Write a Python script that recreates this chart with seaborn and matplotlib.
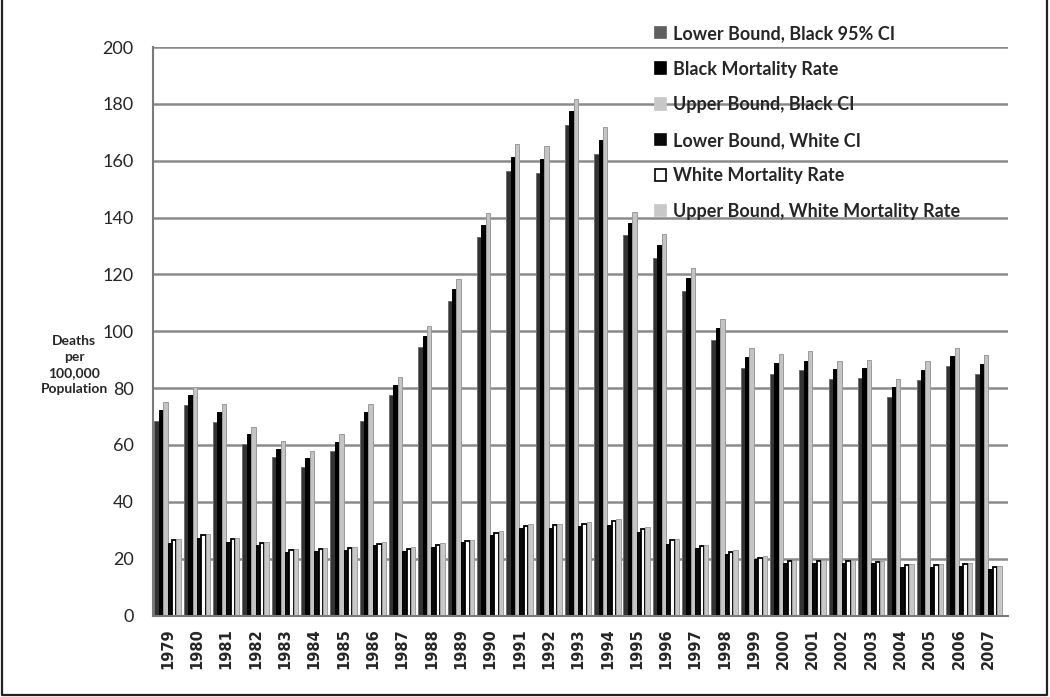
import pandas as pd
import seaborn as sns
import matplotlib.pyplot as plt
from matplotlib.lines import Line2D

years = list(range(1979, 2008))
lower_black = [68.6, 73.9, 68.0, 60.4, 55.6, 52.3, 57.7, 68.3, 77.4, 94.4,
               110.5, 133.1, 156.3, 155.7, 172.6, 162.4, 133.7, 125.7, 114.3, 96.8,
               87.0, 85.0, 86.2, 83.1, 83.6, 76.8, 82.9, 87.7, 85.0]
black_rate = [72.2, 77.4, 71.6, 63.7, 58.6, 55.4, 61.0, 71.6, 81.0, 98.5,
              115.0, 137.5, 161.2, 160.6, 177.6, 167.3, 138.1, 130.2, 118.7, 101.0,
              90.9, 88.9, 89.7, 86.6, 87.0, 80.4, 86.4, 91.2, 88.5]
upper_black = [75.1, 80.4, 74.5, 66.3, 61.3, 57.9, 63.7, 74.5, 83.9, 102.0,
               118.4, 141.6, 165.9, 165.0, 181.7, 171.8, 142.1, 134.2, 122.2, 104.4,
               94.1, 91.9, 92.9, 89.6, 90.0, 83.1, 89.4, 94.2, 91.5]
lower_white = [25.5, 27.3, 25.9, 24.7, 22.4, 22.6, 22.9, 24.7, 22.6, 24.1,
               25.9, 28.4, 30.8, 30.8, 31.4, 31.9, 29.4, 25.3, 23.6, 21.8,
               19.8, 18.6, 18.6, 18.5, 18.3, 17.2, 17.2, 17.4, 16.3]
white_rate = [26.4, 28.2, 26.8, 25.4, 23.1, 23.4, 23.8, 25.3, 23.5, 24.9,
              26.2, 29.1, 31.5, 31.7, 32.3, 33.3, 30.5, 26.5, 24.3, 22.4,
              20.4, 19.3, 19.2, 19.1, 18.9, 17.9, 17.8, 18.1, 17.2]
upper_white = [27.0, 28.6, 27.3, 25.9, 23.5, 23.9, 24.2, 25.9, 24.1, 25.5,
               26.7, 29.7, 32.2, 32.3, 32.9, 34.1, 31.1, 27.0, 24.9, 22.9,
               20.8, 19.6, 19.6, 19.4, 19.2, 18.2, 18.1, 18.4, 17.5]

series_names = ["Lower Bound, Black 95% CI", "Black Mortality Rate", "Upper Bound, Black CI",
                "Lower Bound, White CI", "White Mortality Rate", "Upper Bound, White Mortality Rate"]
fill_colors = ["#333333", "#000000", "#c4c4c4", "#0a0a0a", "#ffffff", "#c8c8c8"]
edge_colors = ["#6e6e6e", "#000000", "#9a9a9a", "#000000", "#000000", "#a0a0a0"]
legend_colors = ["#5f5f5f", "#000000", "#c8c8c8", "#0a0a0a", "#ffffff", "#c8c8c8"]

df = pd.DataFrame({"year": [str(y) for y in years]})
for name, vals in zip(series_names, [lower_black, black_rate, upper_black,
                                     lower_white, white_rate, upper_white]):
    df[name] = vals
long = df.melt(id_vars="year", var_name="series", value_name="value")

sns.set_style("white")
plt.rcParams["font.family"] = ["Lato", "DejaVu Sans"]

fig = plt.figure(figsize=(10.5, 6.97), dpi=100)
ax = fig.add_axes([153 / 1050, 1 - 615.5 / 697, (1008 - 153) / 1050, (615.5 - 47) / 697])

sns.barplot(data=long, x="year", y="value", hue="series", hue_order=series_names,
            palette=fill_colors, saturation=1, width=0.9, ax=ax, legend=False)

for cont, ec, name in zip(ax.containers, edge_colors, series_names):
    for bar in cont:
        bar.set_edgecolor(ec)
        bar.set_linewidth(1.3 if name == "White Mortality Rate" else 0.7)

ax.set_ylim(0, 200)
ax.set_xlim(-0.5, 28.67)
ax.set_yticks(range(0, 201, 20))
ax.grid(axis="y", color="#8a8a8a", linewidth=1.8)
ax.set_axisbelow(True)
for side in ["top", "right"]:
    ax.spines[side].set_visible(False)
for side in ["left", "bottom"]:
    ax.spines[side].set_color("#7a7a7a")
    ax.spines[side].set_linewidth(1.5)

ax.set_xticks(range(len(years)))
ax.set_xticklabels([str(y) for y in years], rotation=90, fontweight="bold",
                   fontsize=10.5, family="DejaVu Sans")
ax.set_xticks([i - 0.5 for i in range(len(years) + 1)], minor=True)
ax.tick_params(axis="x", which="major", length=0, pad=9)
ax.tick_params(axis="x", which="minor", length=5, width=1.3, color="#7a7a7a", direction="out")
ax.tick_params(axis="y", length=5, width=1.3, color="#7a7a7a", labelsize=13, pad=9)
ax.set_xlabel("")
ax.set_ylabel("")

fig.text(74 / 1050, 1 - 365 / 697, "Deaths\nper\n100,000\nPopulation", ha="center", va="center",
         fontsize=10, fontweight="bold", linespacing=1.4)

handles = [plt.Rectangle((0, 0), 1, 1, facecolor=c, edgecolor="#000000" if c == "#ffffff" else c,
                         linewidth=1.2) for c in legend_colors]
leg = fig.legend(handles, series_names, loc="upper left", bbox_to_anchor=(655 / 1050, 1 - 25 / 697),
                 frameon=False, prop={"weight": "bold", "size": 13}, handlelength=0.62,
                 handleheight=0.62, handletextpad=0.35, labelspacing=1.03, borderpad=0,
                 borderaxespad=0)

fig.add_artist(Line2D([0.0015, 0.0015, 0.997, 0.997], [1.0, 0.0025, 0.0025, 1.0],
                      transform=fig.transFigure, color="#222222", linewidth=1.6))

fig.savefig("out.png", dpi=100)
